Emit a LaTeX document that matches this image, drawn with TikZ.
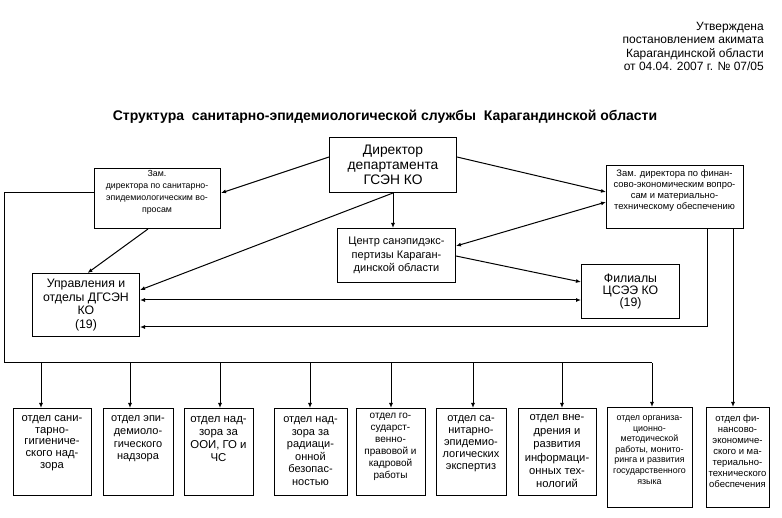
\documentclass[tikz,border=0pt]{standalone}
\usepackage{fontspec}
\setmainfont{Liberation Sans}
\usetikzlibrary{arrows.meta,calc}
\newcommand{\fs}[2]{\fontsize{#1}{#2}\selectfont}
\begin{document}
\begin{tikzpicture}[x=1pt,y=-1pt,
  every node/.style={inner sep=0pt},
  box/.style={draw, line width=1pt, anchor=north west, align=center},
  txt/.style={align=center},
  conn/.style={line width=1pt},
  arr/.style={conn, -{Latex[length=5pt,width=4pt]}},
  darr/.style={conn, {Latex[length=5pt,width=4pt]}-{Latex[length=5pt,width=4pt]}}]
\useasboundingbox[fill=white] (0,0) rectangle (782,518);

% header
\node[align=right, anchor=north east, font=\fs{12}{13.3}] (hdr) at (764,22)
  {Утверждена\\постановлением акимата\\Карагандинской области\\от 04.04. 2007 г. № 07/05};
\node[font=\bfseries\fs{14}{16}] (title) at (385,117)
  {Структура\ \ санитарно-эпидемиологической службы\ \ Карагандинской области};

% upper boxes
\node[box, minimum width=127, minimum height=55, font=\fs{13.8}{14.8}] (dir) at (329,137)
  {Директор\\департамента\\ГСЭН КО};
\node[box, minimum width=126, minimum height=60] (zam1) at (94,168) {};
\node[txt, font=\fs{8.8}{12}] (zam1t) at (157,192)
  {Зам.\\директора по санитарно-\\эпидемиологическим во-\\просам};
\node[box, minimum width=137, minimum height=63] (zam2) at (606,165) {};
\node[txt, font=\fs{9.4}{11}] (zam2t) at (674.5,190.5)
  {Зам. директора по финан-\\сово-экономическим вопро-\\сам и материально-\\техническому обеспечению};
\node[box, minimum width=118, minimum height=54, font=\fs{11}{13.8}] (cen) at (337,228)
  {Центр санэпидэкс-\\пертизы Караган-\\динской области};
\node[box, minimum width=98, minimum height=54, font=\fs{12.3}{12}] (fil) at (581,264)
  {Филиалы\\ЦСЭЭ КО\\(19)};
\node[box, minimum width=107, minimum height=63, font=\fs{12.3}{13.5}] (upr) at (32,273)
  {Управления и\\отделы ДГСЭН\\КО\\(19)};

% bottom boxes
\node[box, minimum width=78, minimum height=87] (b1) at (13,408) {};
\node[box, minimum width=70, minimum height=87] (b2) at (103,408) {};
\node[box, minimum width=69, minimum height=87] (b3) at (184,408) {};
\node[box, minimum width=73, minimum height=87] (b4) at (274,408) {};
\node[box, minimum width=69, minimum height=87] (b5) at (356,408) {};
\node[box, minimum width=70, minimum height=87] (b6) at (436,408) {};
\node[box, minimum width=78, minimum height=87] (b7) at (518,408) {};
\node[box, minimum width=85, minimum height=100] (b8) at (607,407) {};
\node[box, minimum width=63, minimum height=100] (b9) at (706,407) {};

\node[txt, font=\fs{11.2}{11.8}] (t1) at (52,443) {отдел сани-\\тарно-\\гигиениче-\\ского над-\\зора};
\node[txt, font=\fs{11}{12.7}] (t2) at (138,439) {отдел эпи-\\демиоло-\\гического\\надзора};
\node[txt, font=\fs{11.4}{12.7}] (t3) at (218.5,439) {отдел над-\\зора за\\ООИ, ГО и\\ЧС};
\node[txt, font=\fs{11}{12.6}] (t4) at (310.5,451) {отдел над-\\зора за\\радиаци-\\онной\\безопас-\\ностью};
\node[txt, font=\fs{10}{12}] (t5) at (390.5,447) {отдел го-\\сударст-\\венно-\\правовой и\\кадровой\\работы};
\node[txt, font=\fs{11}{12}] (t6) at (471,444) {отдел са-\\нитарно-\\эпидемио-\\логических\\экспертиз};
\node[txt, font=\fs{11.2}{13.4}] (t7) at (557,451.5) {отдел вне-\\дрения и\\развития\\информаци-\\онных тех-\\нологий};
\node[txt, font=\fs{8.9}{10.6}] (t8) at (649.5,450) {отдел организа-\\ционно-\\методической\\работы, монито-\\ринга и развития\\государственного\\языка};
\node[txt, font=\fs{9.5}{11}] (t9) at (737.5,451) {отдел фи-\\нансово-\\экономиче-\\ского и ма-\\териально-\\технического\\обеспечения};

% connectors from director
\draw[arr] ([yshift=-20]dir.north west) -- ([yshift=-25]zam1.north east);
\draw[arr] ([yshift=-20]dir.north east) -- ([yshift=-27]zam2.north west);
\draw[arr] (dir.south) -- (dir.south |- cen.north);
\draw[arr] (dir.south) -- ([yshift=-17]upr.north east);
\draw[darr] ([yshift=-18]cen.north east) -- ([yshift=-37]zam2.north west);
\draw[arr] ([xshift=54]zam1.south west) -- ([xshift=1.5]upr.north);
\draw[arr] ([yshift=-28]cen.north east) -- ([yshift=-18]fil.north west);
\draw[darr] ([yshift=-27]upr.north east) -- ([yshift=-36]fil.north west);
\draw[arr] ([xshift=101]zam2.south west) |- ([yshift=-54]upr.north east);
\draw[arr] ([xshift=127]zam2.south west) -- ([xshift=127]zam2.south west |- b9.north);

% bus
\coordinate (busTL) at (4,193);
\coordinate (busBL) at (4,363);
\coordinate (busR) at (652,363);
\draw[conn] ([yshift=-25]zam1.north west) -- (busTL) -- (busBL) -- (busR);
\foreach \x/\b in {41/b1,130/b2,220/b3,310/b4,391/b5,473/b6,562/b7,652/b8}{
  \coordinate (d\b) at (\x,363);
  \draw[arr] (d\b) -- (d\b |- \b.north);
}
\end{tikzpicture}
\end{document}
